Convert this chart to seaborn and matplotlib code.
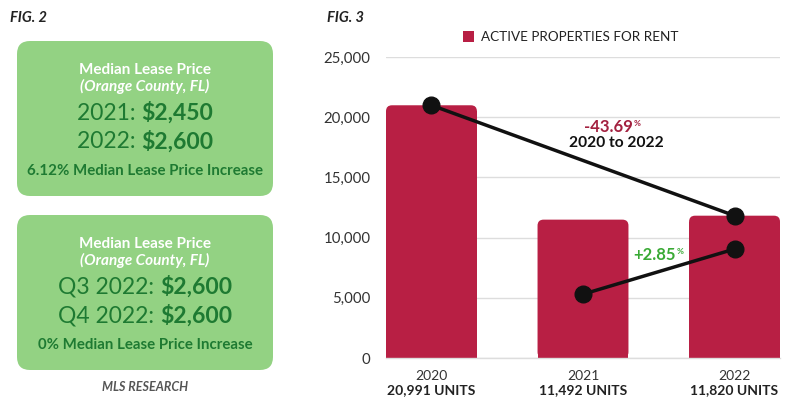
import matplotlib
matplotlib.use("Agg")
import matplotlib.pyplot as plt
import seaborn as sns
import pandas as pd
from matplotlib.patches import FancyBboxPatch, Rectangle, Patch

# ---------------- data ----------------
years = ["2020", "2021", "2022"]
active_units = [20991, 11492, 11820]
unit_labels = ["20,991 UNITS", "11,492 UNITS", "11,820 UNITS"]
trend_2020_2022 = [20991, 11820]          # decline line (2020 -> 2022)
trend_2021_2022 = [5300, 9050]            # increase line (2021 -> 2022)
pct_decline = "-43.69"
pct_increase = "+2.85"
y_ticks = [0, 5000, 10000, 15000, 20000, 25000]

box1_title = ["Median Lease Price", "(Orange County, FL)"]
box1_rows = [("2021: ", "$2,450"), ("2022: ", "$2,600")]
box1_foot = "6.12% Median Lease Price Increase"
box2_title = ["Median Lease Price", "(Orange County, FL)"]
box2_rows = [("Q3 2022: ", "$2,600"), ("Q4 2022: ", "$2,600")]
box2_foot = "0% Median Lease Price Increase"

# ---------------- style ----------------
sns.set_theme(style="white")
FONT = ["Lato", "DejaVu Sans"]
plt.rcParams["font.family"] = FONT

BAR = "#B81F44"
GREEN_BOX = "#93D283"
DARK_GREEN = "#1E7A32"
W, H = 800, 412

fig = plt.figure(figsize=(8, 4.12), dpi=100)
fig.patch.set_facecolor("white")

def P(x, y):
    return (x / W, 1 - y / H)

renderer = fig.canvas.get_renderer()

def mixed(xc, y, parts, size, color):
    texts = []
    for s, weight, style in parts:
        t = fig.text(0, 0, s, fontsize=size, color=color, fontweight=weight,
                     fontstyle=style, va="center", ha="left")
        texts.append(t)
    widths = [t.get_window_extent(renderer).width for t in texts]
    total = sum(widths)
    x = xc - total / 2
    for t, w in zip(texts, widths):
        t.set_position(P(x, y))
        x += w

# ---------------- left panel ----------------
fig.text(*P(10, 18), "FIG. 2", fontsize=10.5, fontweight="bold", fontstyle="italic",
         color="#222222", va="center", ha="left")
fig.text(*P(327, 18), "FIG. 3", fontsize=10.5, fontweight="bold", fontstyle="italic",
         color="#222222", va="center", ha="left")

def green_box(top, bottom, title, rows, foot):
    x0, x1 = 17, 273
    box = FancyBboxPatch((x0 / 100, (H - bottom) / 100), (x1 - x0) / 100, (bottom - top) / 100,
                         boxstyle="round,pad=0,rounding_size=0.13",
                         transform=fig.dpi_scale_trans, facecolor=GREEN_BOX,
                         edgecolor="none", zorder=0)
    fig.patches.append(box)
    xc = (x0 + x1) / 2
    fig.text(*P(xc, top + 29), title[0], fontsize=11, fontweight="bold",
             color="white", ha="center", va="center")
    fig.text(*P(xc, top + 45), title[1], fontsize=11, fontweight="bold",
             fontstyle="italic", color="white", ha="center", va="center")
    mixed(xc, top + 72, [(rows[0][0], "normal", "normal"), (rows[0][1], "bold", "normal")],
          16.5, DARK_GREEN)
    mixed(xc, top + 101, [(rows[1][0], "normal", "normal"), (rows[1][1], "bold", "normal")],
          16.5, DARK_GREEN)
    fig.text(*P(xc, top + 130), foot, fontsize=10.8, fontweight="bold",
             color=DARK_GREEN, ha="center", va="center")

green_box(41, 196, box1_title, box1_rows, box1_foot)
green_box(215, 370, box2_title, box2_rows, box2_foot)

fig.text(*P(145, 387), "MLS RESEARCH", fontsize=9, fontweight="bold", fontstyle="italic",
         color="#555555", ha="center", va="center")

# ---------------- right panel: bar chart ----------------
ax = fig.add_axes([386 / W, 1 - 358 / H, (780 - 386) / W, (358 - 57) / H])
df = pd.DataFrame({"year": years, "units": active_units})
sns.barplot(data=df, x="year", y="units", color=BAR, width=0.6, saturation=1,
            ax=ax, zorder=2)
ax.set_xlim(-0.3, 2.3)
ax.set_ylim(0, 25000)
ax.set_yticks(y_ticks)
ax.set_yticklabels([f"{v:,}" for v in y_ticks])
ax.yaxis.grid(True, color="#DDDDDD", linewidth=1, zorder=0)
ax.set_axisbelow(True)
for s in ["top", "right", "left"]:
    ax.spines[s].set_visible(False)
ax.spines["bottom"].set_color("#DDDDDD")
ax.spines["bottom"].set_linewidth(1)
ax.tick_params(axis="y", length=0, pad=11, labelsize=10.8, labelcolor="#333333")
ax.tick_params(axis="x", length=0, pad=9, labelsize=10, labelcolor="#333333")
ax.set_xlabel("")
ax.set_ylabel("")

# rounded top corners on bars
fig.canvas.draw()
px_x = ax.transData.transform((1, 0))[0] - ax.transData.transform((0, 0))[0]
px_y = ax.transData.transform((0, 1000))[1] - ax.transData.transform((0, 0))[1]
aspect = px_x / (px_y / 1000)
r_px = 6
r_x = r_px / px_x
r_y = r_px / (px_y / 1000)
for p in list(ax.patches):
    x, y, w, h = p.get_x(), p.get_y(), p.get_width(), p.get_height()
    p.set_visible(False)
    ax.add_patch(FancyBboxPatch((x, y), w, h, boxstyle=f"round,pad=0,rounding_size={r_x}",
                                mutation_aspect=aspect, facecolor=BAR, edgecolor="none",
                                zorder=2))
    ax.add_patch(Rectangle((x, y), w, h - r_y, facecolor=BAR, edgecolor="none", zorder=2))

# unit labels below year ticks
for i, lab in enumerate(unit_labels):
    ax.text(i, -0.105, lab, transform=ax.get_xaxis_transform(), ha="center", va="center",
            fontsize=10, fontweight="bold", color="#222222")

# trend lines
ax.plot([0, 2], trend_2020_2022, color="#111111", linewidth=2.5, marker="o",
        markersize=12, zorder=4, clip_on=False)
ax.plot([1, 2], trend_2021_2022, color="#111111", linewidth=2.5, marker="o",
        markersize=12, zorder=4, clip_on=False)

# annotations
def pct_text(xc, y, num, color):
    t1 = fig.text(0, 0, num, fontsize=12, fontweight="bold", color=color, va="center", ha="left")
    t2 = fig.text(0, 0, "%", fontsize=6, fontweight="bold", color=color, va="center", ha="left")
    w1 = t1.get_window_extent(renderer).width
    w2 = t2.get_window_extent(renderer).width
    x = xc - (w1 + w2) / 2
    t1.set_position(P(x, y))
    t2.set_position(P(x + w1 + 1, y - 3))

pct_text(612, 127, pct_decline, "#A3203F")
fig.text(*P(616, 143), "2020 to 2022", fontsize=11.2, fontweight="bold", color="#111111",
         ha="center", va="center")
pct_text(658, 255, pct_increase, "#3AAA35")

# legend
leg = ax.legend(handles=[Patch(facecolor=BAR, edgecolor="none")],
                labels=["ACTIVE PROPERTIES FOR RENT"],
                loc="center left", bbox_to_anchor=P(463, 37),
                bbox_transform=fig.transFigure, frameon=False, fontsize=9.7,
                handlelength=0.85, handleheight=0.85, handletextpad=0.5,
                borderaxespad=0, borderpad=0)
for t in leg.get_texts():
    t.set_color("#222222")

fig.savefig("out.png", dpi=100)
